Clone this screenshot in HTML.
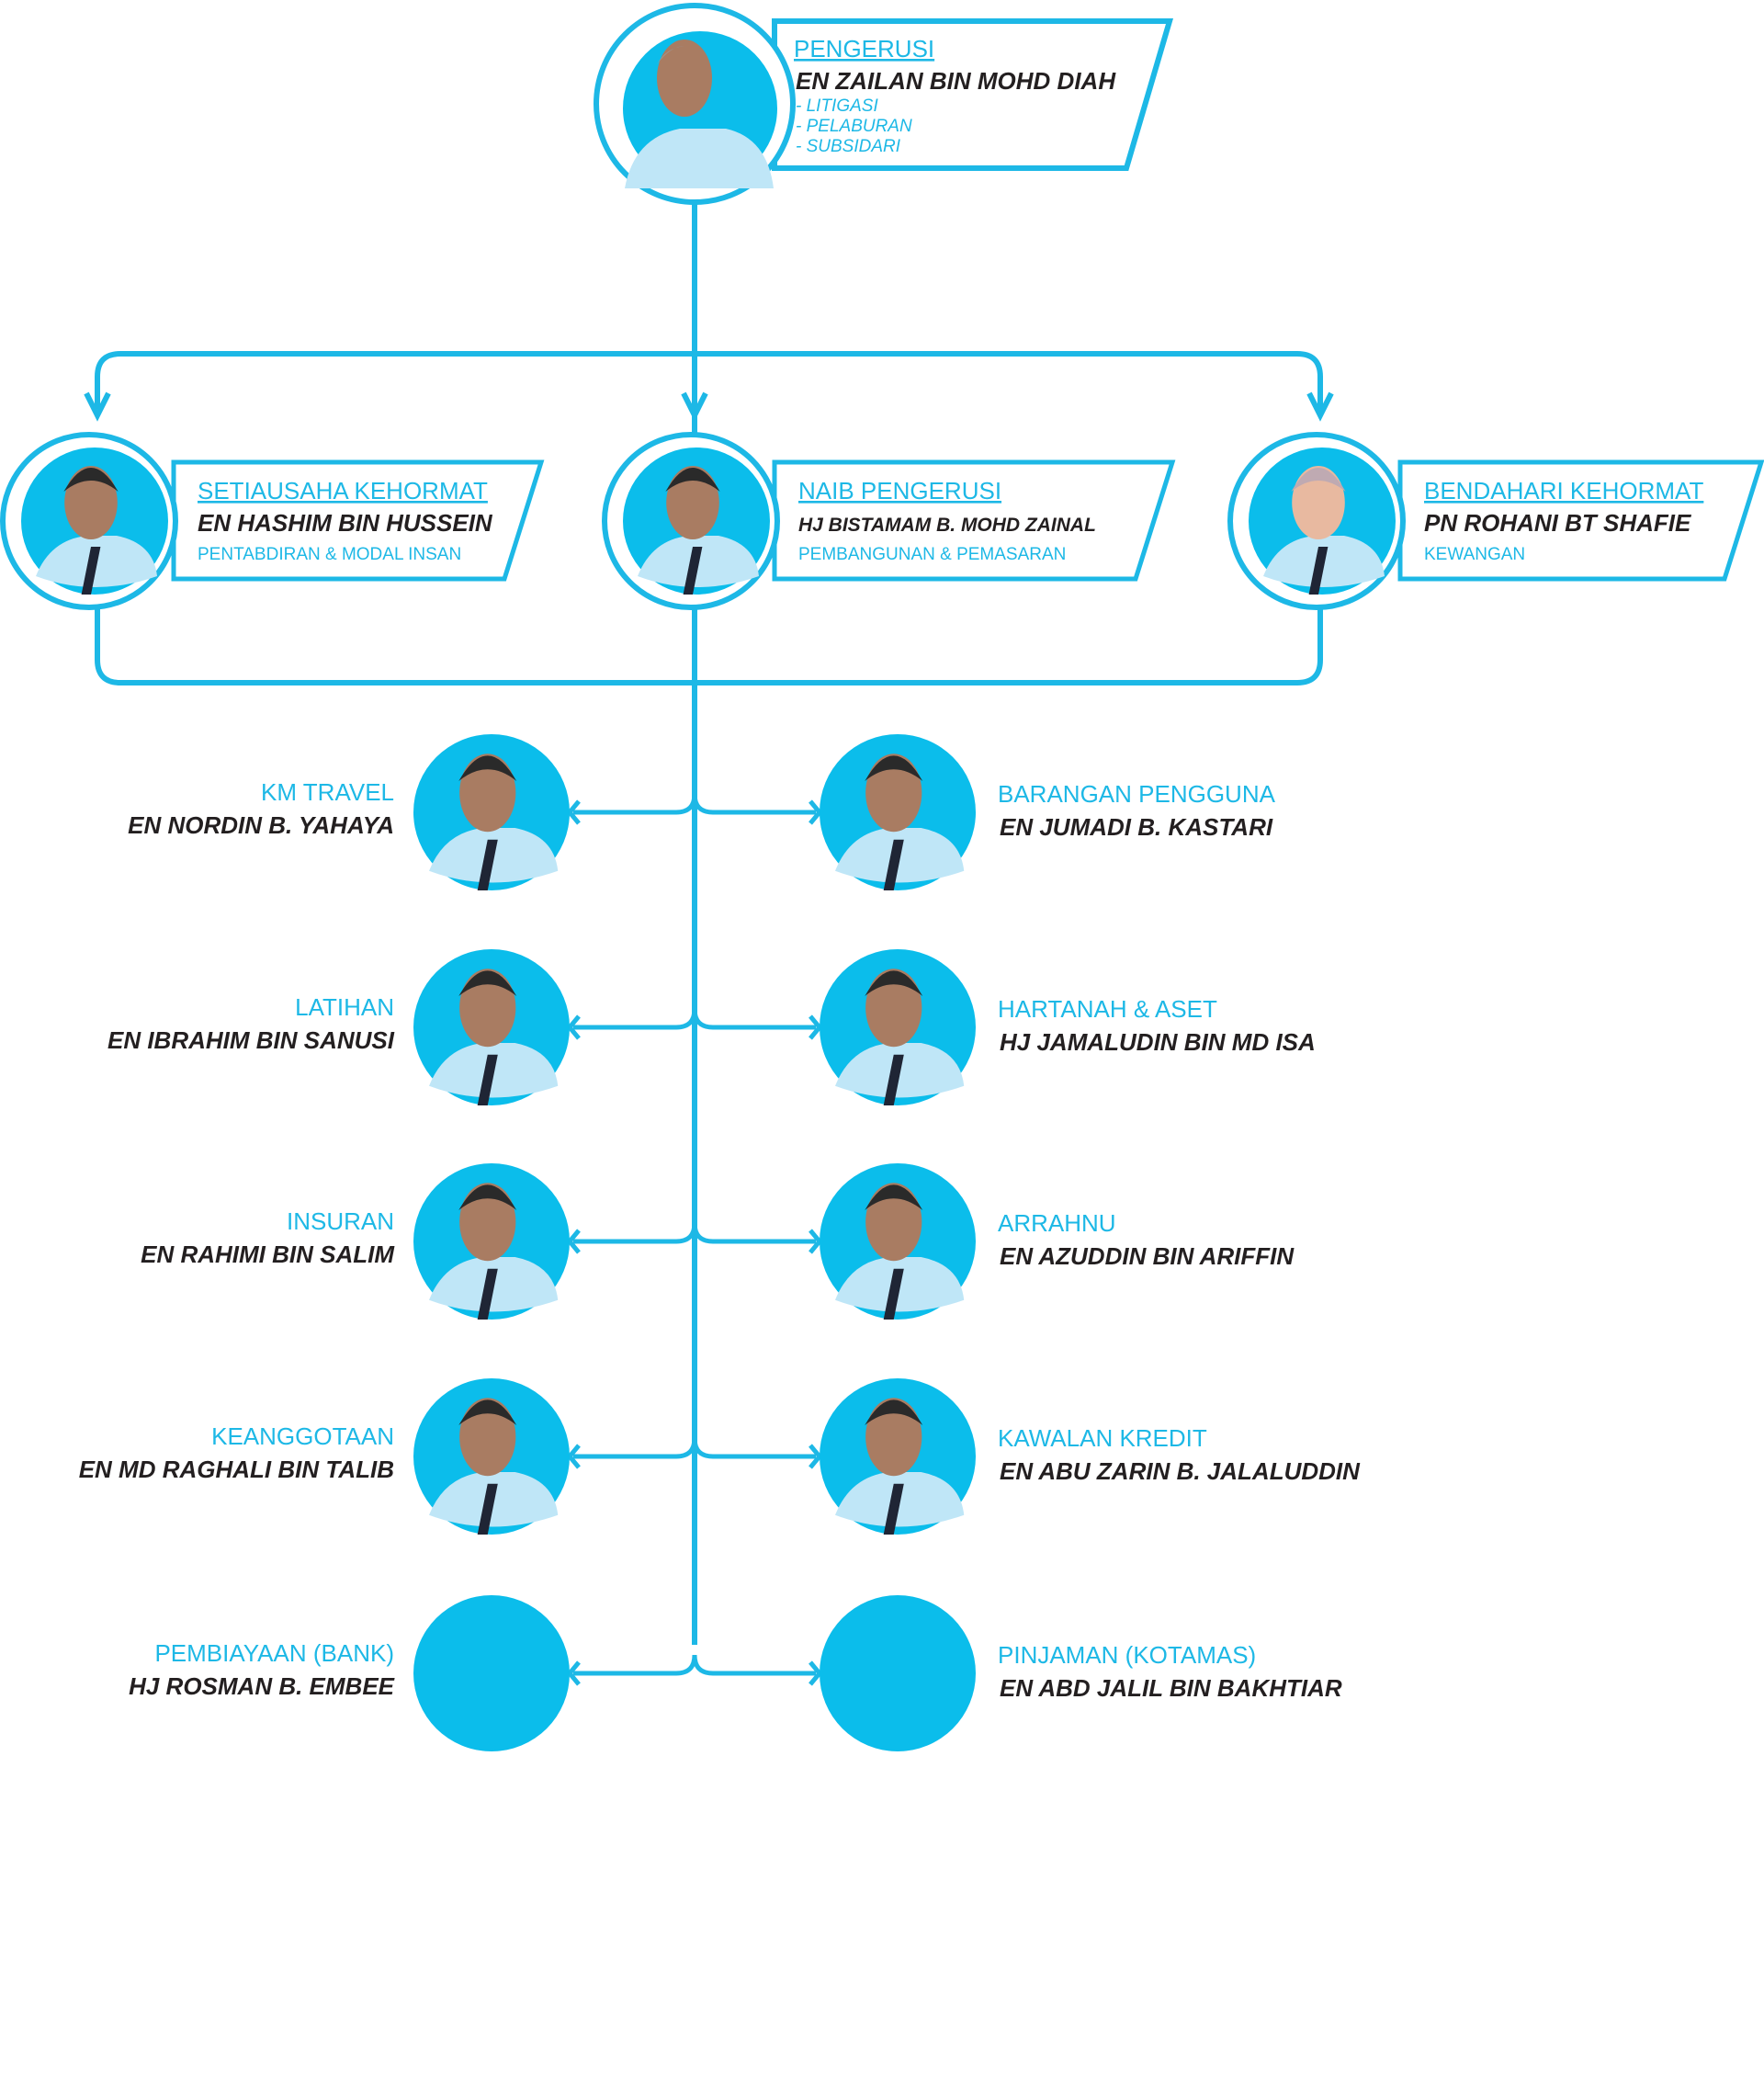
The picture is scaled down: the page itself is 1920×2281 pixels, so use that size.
<!DOCTYPE html>
<html><head><meta charset="utf-8"><style>
html,body{margin:0;padding:0;background:#fff}
svg{display:block}
text{font-family:"Liberation Sans",sans-serif}
.t{fill:#1db8e6;font-size:26px}
.n{fill:#231f20;font-size:26px;font-weight:bold;font-style:italic}
.s{fill:#1db8e6;font-size:19px}
</style></head><body>
<svg id="c" width="1920" height="2281" viewBox="0 0 1920 2281">
<g fill="none" stroke="#1db8e6" stroke-width="6">
<path d="M756 218 V1790"/>
<path d="M106 445 V410 Q106 385 131 385 H1412 Q1437 385 1437 410 V445"/>
<path d="M756 385 V445" />
<path d="M94 428 L106 452 L118 428 M744 428 L756 452 L768 428 M1425 428 L1437 452 L1449 428"/>
<path d="M106 662 V718 Q106 743 131 743 H1412 Q1437 743 1437 718 V662"/>
</g>
<g>
<path d="M843 23 H1273 L1226 183 H843 Z" fill="#fff" stroke="#1db8e6" stroke-width="6"/>
<circle cx="756" cy="113" r="107" fill="#fff" stroke="#1db8e6" stroke-width="6"/>
<circle cx="762" cy="118" r="84" fill="#0bbdeb"/>
<path d="M680 205 Q690 150 740 140 L790 140 Q835 150 842 205 Z" fill="#bfe6f7"/>
<ellipse cx="745" cy="85" rx="30" ry="42" fill="#a97c62"/>
<path d="M715 70 Q745 30 775 70 Q760 50 745 50 Q725 52 715 70Z" fill="#9a9a9a"/>
<text x="864" y="62" class="t" text-decoration="underline">PENGERUSI</text>
<text x="866" y="97" class="n">EN ZAILAN BIN MOHD DIAH</text>
<text x="866" y="121" class="s" font-style="italic">- LITIGASI</text>
<text x="866" y="143" class="s" font-style="italic">- PELABURAN</text>
<text x="866" y="165" class="s" font-style="italic">- SUBSIDARI</text>
</g>
<g id="row2"></g>
<g id="kids"></g>
</svg>
<script>
const NS='http://www.w3.org/2000/svg';
function mk(p,tag,at,txt){const e=document.createElementNS(NS,tag);for(const k in at)e.setAttribute(k,at[k]);if(txt)e.textContent=txt;p.appendChild(e);return e;}
function person(g,cx,cy,r,skin,hair){
  mk(g,'circle',{cx:cx,cy:cy,r:r,fill:'#0bbdeb'});
  mk(g,'path',{d:`M${cx-r*0.8} ${cy+r*0.75} Q${cx-r*0.6} ${cy+r*0.25} ${cx-r*0.1} ${cy+r*0.2} L${cx+r*0.3} ${cy+r*0.2} Q${cx+r*0.8} ${cy+r*0.3} ${cx+r*0.85} ${cy+r*0.75} Q${cx} ${cy+r*1.05} ${cx-r*0.8} ${cy+r*0.75}Z`,fill:'#bfe6f7'});
  mk(g,'path',{d:`M${cx-r*0.05} ${cy+r*0.35} L${cx+r*0.08} ${cy+r*0.35} L${cx-r*0.05} ${cy+r*1.0} L${cx-r*0.18} ${cy+r*1.0}Z`,fill:'#1f2535'});
  mk(g,'ellipse',{cx:cx-r*0.05,cy:cy-r*0.25,rx:r*0.36,ry:r*0.5,fill:skin});
  mk(g,'path',{d:`M${cx-r*0.42} ${cy-r*0.4} Q${cx-r*0.05} ${cy-r*1.05} ${cx+r*0.32} ${cy-r*0.4} Q${cx-r*0.05} ${cy-r*0.7} ${cx-r*0.42} ${cy-r*0.4}Z`,fill:hair});
}
const row2=document.getElementById('row2');
const leaders=[
 {cx:97,bx:189,bw:400,title:'SETIAUSAHA KEHORMAT',name:'EN HASHIM BIN HUSSEIN',sub:'PENTABDIRAN & MODAL INSAN',k:'secretary'},
 {cx:752,bx:843,bw:433,title:'NAIB PENGERUSI',name:'HJ BISTAMAM B. MOHD ZAINAL',sub:'PEMBANGUNAN & PEMASARAN',k:'vice-chairman',small:true},
 {cx:1433,bx:1524,bw:393,title:'BENDAHARI KEHORMAT',name:'PN ROHANI BT SHAFIE',sub:'KEWANGAN',k:'treasurer'}];
leaders.forEach(L=>{
  const g=mk(row2,'g',{});
  
  
  mk(g,'path',{d:`M${L.bx} 503 H${L.bx+L.bw} L${L.bx+L.bw-40} 630 H${L.bx} Z`,fill:'#fff',stroke:'#1db8e6','stroke-width':5});
  mk(g,'circle',{cx:L.cx,cy:567,r:94,fill:'#fff',stroke:'#1db8e6','stroke-width':6});
  person(g,L.cx+6,567,80,L.k==='treasurer'?'#e8b9a0':'#a97c62',L.k==='treasurer'?'#bfaab2':'#2a2a2a');
  const t=mk(g,'text',{x:L.bx+26,y:543,class:'t','text-decoration':'underline'},L.title);
  
  
  const n=mk(g,'text',{x:L.bx+26,y:578,class:'n',style:'font-size:'+(L.small?'21px':'26px')},L.name);
  
  
  const s=mk(g,'text',{x:L.bx+26,y:609,class:'s'},L.sub);
  
  
});
const rowsY=[884,1118,1351,1585,1821];
const leftTitles=['KM TRAVEL','LATIHAN','INSURAN','KEANGGOTAAN','PEMBIAYAAN (BANK)'];
const leftNames=['EN NORDIN B. YAHAYA','EN IBRAHIM BIN SANUSI','EN RAHIMI BIN SALIM','EN MD RAGHALI BIN TALIB','HJ ROSMAN B. EMBEE'];
const rightTitles=['BARANGAN PENGGUNA','HARTANAH & ASET','ARRAHNU','KAWALAN KREDIT','PINJAMAN (KOTAMAS)'];
const rightNames=['EN JUMADI B. KASTARI','HJ JAMALUDIN BIN MD ISA','EN AZUDDIN BIN ARIFFIN','EN ABU ZARIN B. JALALUDDIN','EN ABD JALIL BIN BAKHTIAR'];
const kids=document.getElementById('kids');
rowsY.forEach((y,i)=>{
  const g=mk(kids,'g',{});
  
  
  mk(g,'path',{d:`M756 ${y-20} Q756 ${y} 736 ${y} H624 M630 ${y-12} L620 ${y} L630 ${y+12} M756 ${y-20} Q756 ${y} 776 ${y} H888 M882 ${y-12} L892 ${y} L882 ${y+12}`,fill:'none',stroke:'#1db8e6','stroke-width':5});
  const photo=i<4;
  if(photo){person(g,535,y,85,'#a97c62','#2a2a2a');person(g,977,y,85,'#a97c62','#2a2a2a');}
  else{mk(g,'circle',{cx:535,cy:y,r:85,fill:'#0bbdeb'});mk(g,'circle',{cx:977,cy:y,r:85,fill:'#0bbdeb'});}
  const lt=mk(g,'text',{x:429,y:y-13,class:'t','text-anchor':'end'},leftTitles[i]);
  
  
  const ln=mk(g,'text',{x:429,y:y+23,class:'n','text-anchor':'end'},leftNames[i]);
  
  
  const rt=mk(g,'text',{x:1086,y:y-11,class:'t'},rightTitles[i]);
  
  
  const rn=mk(g,'text',{x:1088,y:y+25,class:'n'},rightNames[i]);
  
  
});
</script>
</body></html>
